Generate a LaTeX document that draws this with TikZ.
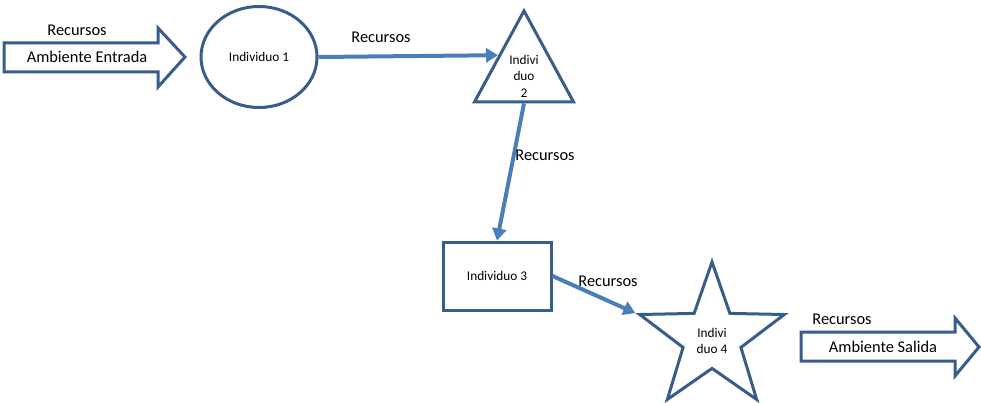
\documentclass[tikz,border=0pt]{standalone}
\usepackage{fontspec}
\setmainfont{Carlito}
\usetikzlibrary{shapes.geometric,arrows.meta}
\definecolor{edgeblue}{RGB}{56,93,138}
\definecolor{linkblue}{RGB}{74,126,187}
\begin{document}
\begin{tikzpicture}[x=1pt,y=-1pt,
    indiv/.style={draw=edgeblue, line width=3pt, font=\fontsize{13.3}{16.5}\selectfont, align=center, inner sep=0pt},
    link/.style={draw=linkblue, line width=4pt, -{Triangle[length=12pt,width=14pt]}},
    lbl/.style={font=\fontsize{16.4}{18}\selectfont, inner sep=0pt}]
  \useasboundingbox (0,0) rectangle (981,403);
  % ambiente de entrada
  \draw[edgeblue, line width=3pt, fill=white] (4,43) -- (158,43) -- (158,28) -- (185,57) -- (158,87) -- (158,72) -- (4,72) -- cycle;
  \node[lbl] (entrada) at (87,57) {Ambiente Entrada};
  \node[lbl] (recin) at (77,30) {Recursos};
  % individuos
  \node[indiv, ellipse, minimum width=116, minimum height=101] (ind1) at (259,57) {Individuo 1};
  \node[indiv, isosceles triangle, shape border rotate=90, isosceles triangle stretches, minimum width=99, minimum height=91, anchor=apex] (ind2) at (524,7) {\rule{0pt}{17pt}Indivi\\duo\\2};
  \node[indiv, rectangle, minimum width=108, minimum height=68] (ind3) at (497,276) {Individuo 3};
  \node[indiv, star, star points=5, star point ratio=2.5, minimum size=152] (ind4) at (712,338) {\rule{0pt}{15pt}Indivi\\duo 4};
  % ambiente de salida
  \draw[edgeblue, line width=3pt, fill=white] (801,332) -- (955,332) -- (955,318) -- (979,347) -- (955,376) -- (955,361) -- (801,361) -- cycle;
  \node[lbl] (salida) at (883,347) {Ambiente Salida};
  \node[lbl] (recout) at (842,319) {Recursos};
  % recursos entre individuos
  \draw[link] (ind1.east) -- (ind2.left side);
  \draw[link] (ind2.lower side) -- (ind3.north);
  \draw[link] (ind3.east) -- (ind4.outer point 2);
  \node[lbl] (rec12) at (381,37) {Recursos};
  \node[lbl] (rec23) at (545,155) {Recursos};
  \node[lbl] (rec34) at (608,281) {Recursos};
\end{tikzpicture}
\end{document}
